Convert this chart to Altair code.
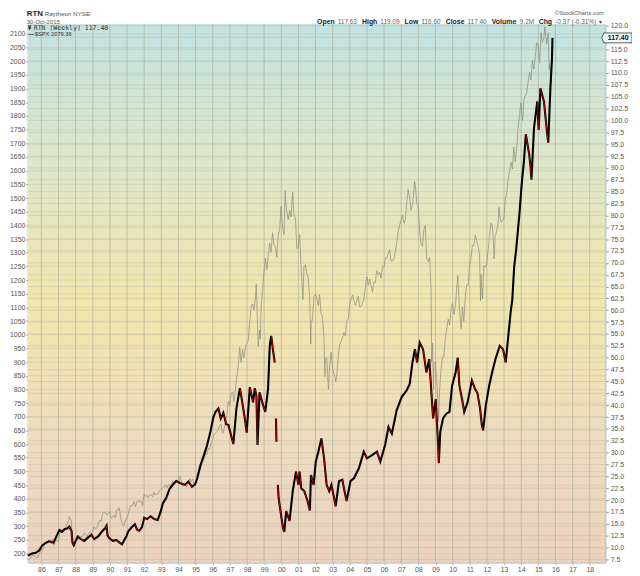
import altair as alt
import pandas as pd

W, H = 583, 543

# ---------------- data ----------------
# S&P 500 monthly closes (Mar 1985 .. Dec 1994)
spx_1985_1994 = [181, 180, 190, 192, 191, 189, 182, 190, 202, 211,
                 212, 227, 238, 235, 247, 251, 236, 253, 231, 244, 249, 242,
                 274, 284, 291, 288, 290, 304, 318, 330, 322, 252, 230, 247,
                 257, 268, 259, 261, 262, 274, 272, 262, 272, 278, 274, 278,
                 297, 289, 295, 310, 321, 318, 346, 351, 349, 340, 346, 353,
                 329, 332, 340, 331, 361, 358, 356, 322, 306, 304, 322, 330,
                 344, 367, 375, 375, 390, 371, 388, 395, 388, 392, 375, 417,
                 409, 413, 404, 415, 415, 408, 424, 414, 418, 419, 431, 436,
                 439, 443, 452, 440, 450, 451, 448, 464, 459, 468, 462, 466,
                 482, 467, 446, 451, 457, 444, 458, 475, 463, 472, 454, 459]
# Jan 1995 .. Dec 2004
spx_1995_2004 = [470, 487, 501, 515, 533, 545, 562, 562, 584, 582, 605, 616,
                 636, 640, 646, 654, 669, 671, 640, 652, 687, 705, 757, 741,
                 786, 791, 757, 801, 848, 885, 954, 899, 947, 915, 955, 970,
                 980, 1049, 1102, 1112, 1091, 1134, 1121, 957, 1017, 1099, 1164, 1229,
                 1280, 1238, 1286, 1335, 1302, 1373, 1329, 1320, 1283, 1363, 1389, 1469,
                 1394, 1366, 1499, 1452, 1421, 1455, 1431, 1518, 1437, 1429, 1315, 1320,
                 1366, 1240, 1160, 1249, 1256, 1224, 1211, 1134, 1041, 1060, 1139, 1148,
                 1130, 1107, 1147, 1077, 1067, 990, 912, 916, 815, 886, 936, 880,
                 856, 841, 848, 917, 964, 975, 990, 1008, 996, 1051, 1058, 1112,
                 1131, 1145, 1126, 1107, 1121, 1141, 1102, 1104, 1115, 1130, 1174, 1212]
# Jan 2005 .. Oct 2015
spx_2005_2015 = [1181, 1204, 1181, 1157, 1192, 1191, 1234, 1220, 1229, 1207, 1249, 1248,
                 1280, 1281, 1295, 1311, 1270, 1270, 1277, 1304, 1336, 1378, 1401, 1418,
                 1438, 1407, 1421, 1482, 1531, 1503, 1455, 1474, 1527, 1549, 1481, 1468,
                 1379, 1331, 1323, 1386, 1400, 1280, 1267, 1283, 1165, 969, 896, 903,
                 826, 735, 798, 873, 919, 919, 987, 1021, 1057, 1036, 1096, 1115,
                 1074, 1104, 1169, 1187, 1089, 1031, 1102, 1049, 1141, 1183, 1181, 1258,
                 1286, 1327, 1326, 1364, 1345, 1321, 1292, 1219, 1131, 1253, 1247, 1258,
                 1312, 1366, 1408, 1398, 1310, 1362, 1379, 1407, 1441, 1412, 1416, 1426,
                 1498, 1515, 1569, 1598, 1631, 1606, 1686, 1633, 1682, 1757, 1806, 1848,
                 1783, 1859, 1872, 1884, 1924, 1960, 1931, 2003, 1972, 2018, 2068, 2059,
                 1995, 2105, 2068, 2086, 2107, 2063, 2104, 1972, 1920, 2079]
# extra weekly closes at turning points
spx_week_dates = ["1987-08-21", "1987-10-23", "1987-12-04", "1990-07-13", "1990-10-12",
                  "1998-07-17", "1998-09-04", "1998-10-09", "2000-03-24", "2000-09-01",
                  "2001-04-06", "2001-09-21", "2002-07-19", "2002-10-04", "2002-10-11",
                  "2003-03-07", "2007-10-12", "2008-10-10", "2008-11-21", "2009-03-06",
                  "2010-04-23", "2010-07-02", "2011-04-29", "2011-08-19", "2011-09-30",
                  "2012-06-01", "2012-09-14", "2015-05-22", "2015-08-21", "2015-08-28",
                  "2015-09-25", "2015-10-30"]
spx_week_vals = [335, 248, 224, 367, 300,
                 1186, 973, 984, 1527, 1521,
                 1128, 966, 847, 800, 835,
                 829, 1561, 899, 800, 683,
                 1217, 1022, 1364, 1124, 1131,
                 1278, 1466, 2126, 1971, 1989,
                 1931, 2079]

# RTN weekly price (three pieces: share-class switch in 1999)
rtn_a_dates = ["1985-03-18", "1985-06-01", "1985-09-01", "1985-11-15", "1986-01-15",
               "1986-04-01", "1986-06-15", "1986-09-15", "1986-11-20", "1987-01-20",
               "1987-03-15", "1987-05-15", "1987-07-01", "1987-08-20", "1987-10-05",
               "1987-10-25", "1987-11-20", "1988-02-15", "1988-05-01", "1988-07-01",
               "1988-10-01", "1988-12-01", "1989-02-01", "1989-05-01", "1989-07-15",
               "1989-09-15", "1989-10-20", "1989-11-10", "1989-12-15", "1990-03-01",
               "1990-05-15", "1990-08-01", "1990-09-15", "1990-11-15", "1990-12-20",
               "1991-01-25", "1991-04-01", "1991-06-15", "1991-08-01", "1991-09-15",
               "1991-11-15", "1992-01-01", "1992-03-01", "1992-05-15", "1992-08-01",
               "1992-10-15", "1992-12-15", "1993-02-01", "1993-04-15", "1993-07-01",
               "1993-09-15", "1993-11-15", "1994-02-01", "1994-05-15", "1994-08-01",
               "1994-10-15", "1994-12-20", "1995-02-01", "1995-04-15", "1995-07-01",
               "1995-09-01", "1995-11-15", "1996-01-15", "1996-03-01", "1996-05-01",
               "1996-06-20", "1996-08-15", "1996-10-15", "1996-12-01", "1997-03-15",
               "1997-05-20", "1997-08-01", "1997-09-15", "1997-11-15", "1997-12-25",
               "1998-03-01", "1998-05-10", "1998-06-15", "1998-07-20", "1998-08-12",
               "1998-09-25", "1998-12-10", "1999-01-25", "1999-03-25", "1999-04-30",
               "1999-06-01", "1999-07-05", "1999-08-15"]
rtn_a_vals = [8.3, 8.7, 8.9, 9.4, 10.4,
              11.0, 11.3, 11.0, 12.4, 13.7,
              13.3, 13.9, 14.0, 14.4, 13.5,
              11.0, 10.5, 12.3, 11.7, 11.4,
              12.2, 12.7, 11.8, 12.4, 13.4,
              14.0, 14.6, 12.6, 12.0, 11.4,
              11.6, 11.0, 10.7, 11.8, 12.4,
              13.4, 14.2, 14.9, 13.8, 13.5,
              14.3, 16.3, 16.0, 16.6, 16.0,
              15.8, 17.5, 19.3, 20.5, 22.5,
              23.4, 24.0, 23.6, 23.2, 23.9,
              22.8, 23.3, 24.5, 27.4, 29.6,
              31.5, 34.5, 37.5, 38.6, 39.3,
              37.2, 38.4, 36.0, 35.8, 31.8,
              39.3, 43.6, 41.0, 37.2, 34.2,
              43.8, 40.6, 43.6, 42.0, 31.6,
              42.7, 40.0, 38.6, 43.4, 52.5,
              54.6, 51.8, 49.0]
rtn_b_dates = ["1999-09-10", "1999-09-20"]
rtn_b_vals = [37.2, 32.3]
rtn_c_dates = ["1999-10-20", "1999-11-05", "1999-12-15", "2000-02-05", "2000-03-05",
               "2000-04-15", "2000-06-25", "2000-09-01", "2000-11-10", "2001-01-01",
               "2001-01-25", "2001-03-01", "2001-05-05", "2001-07-15", "2001-09-01",
               "2001-09-25", "2001-11-20", "2002-01-05", "2002-03-01", "2002-05-05",
               "2002-07-01", "2002-08-25", "2002-10-20", "2002-12-05", "2003-01-30",
               "2003-03-05", "2003-05-15", "2003-07-25", "2003-09-10", "2003-10-25",
               "2004-01-15", "2004-03-28", "2004-07-12", "2004-10-25", "2005-01-01",
               "2005-04-20", "2005-07-31", "2005-10-12", "2006-01-22", "2006-04-05",
               "2006-06-15", "2006-09-25", "2007-01-10", "2007-04-25", "2007-07-01",
               "2007-08-28", "2007-10-20", "2007-12-05", "2008-01-30", "2008-04-10",
               "2008-06-20", "2008-08-20", "2008-10-05", "2008-11-10", "2009-01-05",
               "2009-02-25", "2009-03-12", "2009-04-12", "2009-06-10", "2009-08-18",
               "2009-10-25", "2009-12-20", "2010-03-05", "2010-04-20", "2010-05-25",
               "2010-07-20", "2010-09-05", "2010-11-15", "2011-02-15", "2011-04-25",
               "2011-06-15", "2011-08-08", "2011-09-15", "2011-10-12", "2011-12-10",
               "2012-02-18", "2012-05-01", "2012-07-10", "2012-10-01", "2012-12-10",
               "2013-02-05", "2013-04-01", "2013-05-20", "2013-06-25", "2013-08-05",
               "2013-09-15", "2013-11-25", "2014-01-01", "2014-01-25", "2014-03-01",
               "2014-04-10", "2014-06-20", "2014-07-20", "2014-08-08", "2014-10-01",
               "2014-12-10", "2015-01-08", "2015-02-15", "2015-05-01", "2015-07-10",
               "2015-08-01", "2015-09-15", "2015-10-20", "2015-10-30"]
rtn_c_vals = [23.2, 20.5, 17.7, 14.2, 13.3,
              17.7, 15.6, 21.9, 26.0, 23.2,
              26.0, 22.5, 21.9, 19.8, 17.8,
              25.3, 23.2, 28.1, 30.2, 33.0,
              28.8, 23.2, 21.9, 23.2, 20.5,
              18.7, 24.0, 24.3, 21.9, 19.8,
              24.0, 24.6, 26.7, 30.2, 28.8,
              29.5, 30.2, 28.1, 31.6, 35.4,
              34.0, 38.9, 41.7, 43.1, 44.5,
              49.0, 51.8, 49.0, 53.2, 51.8,
              46.9, 49.7, 42.7, 37.2, 41.3,
              31.6, 27.8, 34.4, 37.2, 38.2,
              38.6, 44.1, 46.9, 50.0, 44.1,
              41.3, 38.6, 40.6, 45.2, 43.4,
              42.5, 39.3, 35.8, 34.7, 40.0,
              44.1, 47.3, 50.0, 52.5, 51.8,
              49.0, 54.6, 59.5, 62.2, 69.2,
              72.7, 80.4, 85.2, 88.0, 91.5,
              97.1, 92.9, 90.1, 87.5, 98.4,
              104.0, 98.0, 106.8, 104.0, 97.1,
              95.3, 106.8, 113.1, 117.4]

year_ticks = list(range(1986, 2019))
rtn_ticks = [7.5 + 2.5 * i for i in range(46)]
spx_ticks = list(range(200, 2101, 50))

last_close = 117.40

# ---------------- tables ----------------
spx_monthly = spx_1985_1994 + spx_1995_2004 + spx_2005_2015
mdates = []
yy, mm = 1985, 3
for _ in spx_monthly:
    mdates.append(f"{yy}-{mm:02d}-28")
    mm += 1
    if mm > 12:
        mm = 1
        yy += 1
spx = pd.DataFrame({"date": mdates + spx_week_dates, "spx": spx_monthly + spx_week_vals})
spx = spx.sort_values("date").reset_index(drop=True)

pieces = [(rtn_a_dates, rtn_a_vals, "a"), (rtn_b_dates, rtn_b_vals, "b"), (rtn_c_dates, rtn_c_vals, "c")]
rows, downs = [], []
for ds, vs, s in pieces:
    for i, (d, v) in enumerate(zip(ds, vs)):
        rows.append({"date": d, "rtn": v, "seg": s})
        if i > 0 and v < vs[i - 1]:
            downs.append({"d0": ds[i - 1], "v0": vs[i - 1], "d1": d, "v1": v})
rtn = pd.DataFrame(rows)
rtn_down = pd.DataFrame(downs)

years = pd.DataFrame({"d": [f"{y}-01-01" for y in year_ticks]})
rticks = pd.DataFrame({"v": rtn_ticks})
lticks = pd.DataFrame({"v": spx_ticks})
one = pd.DataFrame({"k": [0]})
lastdf = pd.DataFrame({"v": [last_close], "t": [f"{last_close:.2f}"]})

# ---------------- scales / axes ----------------
XS = alt.Scale(type="utc", domain=[alt.DateTime(year=1985, month=3, date=17, utc=True),
                                   alt.DateTime(year=2018, month=11, date=28, utc=True)])
RS = alt.Scale(domain=[6.87, 120.21], nice=False, zero=False)
LS = alt.Scale(domain=[167.4, 2134.4], nice=False, zero=False)
FONT = "Liberation Sans"
LBL = "#555555"

XAX = alt.Axis(values=[alt.DateTime(year=y, month=1, date=1, utc=True) for y in year_ticks],
               labelExpr="utcFormat(datum.value, '%y')", grid=False, title=None,
               labelFont=FONT, labelFontSize=7, labelColor=LBL, tickSize=2,
               tickColor="#9aa", labelPadding=1, domainColor="#a9bcc4",
               labelFlush=False, labelOverlap=False)

bg = alt.Chart(one).mark_rect(
    color=alt.Gradient(gradient="linear", x1=0, y1=0, x2=0, y2=1, stops=[
        alt.GradientStop(offset=0.0, color="#c3e2e1"),
        alt.GradientStop(offset=0.25, color="#dde6ca"),
        alt.GradientStop(offset=0.5, color="#f0e6ae"),
        alt.GradientStop(offset=0.6, color="#f0e3b1"),
        alt.GradientStop(offset=0.78, color="#eddbbf"),
        alt.GradientStop(offset=1.0, color="#ebd2bd"),
    ])
).encode(x=alt.value(0), x2=alt.value(W), y=alt.value(0), y2=alt.value(H))

vgrid = alt.Chart(years).mark_rule(color="#a3a892", strokeWidth=1, opacity=0.6).encode(
    x=alt.X("d:T", scale=XS, axis=XAX))
hgrid_r = alt.Chart(rticks).mark_rule(color="#b4b6a4", strokeWidth=1, opacity=0.4).encode(
    y=alt.Y("v:Q", scale=RS, axis=None))
hgrid_l = alt.Chart(lticks).mark_rule(color="#b4b6a4", strokeWidth=1, opacity=0.3).encode(
    y=alt.Y("v:Q", scale=LS, axis=None))

spx_line = alt.Chart(spx).mark_line(color="#8c8c7c", strokeWidth=0.9, opacity=0.8).encode(
    x=alt.X("date:T", scale=XS, axis=XAX),
    y=alt.Y("spx:Q", scale=LS, title=None,
            axis=alt.Axis(orient="left", values=spx_ticks, format="d", grid=False, labelFont=FONT,
                          labelFontSize=7, labelColor=LBL, tickSize=2, tickColor="#999",
                          labelPadding=1, domainColor="#a9bcc4", labelOverlap=False,
                          labelFlush=False)),
)

rtn_line = alt.Chart(rtn).mark_line(color="#000000", strokeWidth=2.1).encode(
    x=alt.X("date:T", scale=XS, axis=XAX),
    y=alt.Y("rtn:Q", scale=RS, title=None,
            axis=alt.Axis(orient="right", values=[t for t in rtn_ticks if abs(t - 117.5) > 0.1],
                          format=".1f", grid=False, labelFont=FONT, labelFontSize=7,
                          labelColor=LBL, tickSize=3, tickColor="#999", labelPadding=2,
                          domainColor="#9fbfcc", labelOverlap=False, labelFlush=False)),
    detail="seg:N",
)

rtn_red = alt.Chart(rtn_down).mark_rule(color="#e00000", strokeWidth=0.9, opacity=0.9).encode(
    x=alt.X("d0:T", scale=XS, axis=XAX), x2="d1:T",
    y=alt.Y("v0:Q", scale=RS, axis=None), y2="v1:Q",
)

marker = alt.Chart(lastdf).mark_point(
    shape="M-1.6,0L-1.4,-0.5H1.45V0.5H-1.4Z", size=400, filled=True,
    fill="#eef5f2", stroke="#333333", strokeWidth=0.8, opacity=1
).encode(x=alt.value(W + 12.5), y=alt.Y("v:Q", scale=RS, axis=None))
marker_t = alt.Chart(lastdf).mark_text(font=FONT, fontSize=7, fontWeight="bold", color="#111").encode(
    x=alt.value(W + 13), y=alt.Y("v:Q", scale=RS, axis=None), text="t:N")

# --------- header / legend texts (page coords -> plot coords) ---------
OX, OY = 28, 22


def txt(s, px, py, size=7, bold=False, color="#333", align="left", font=FONT, baseline="alphabetic"):
    return alt.Chart(one).mark_text(
        text=s, font=font, fontSize=size, fontWeight="bold" if bold else "normal",
        color=color, align=align, baseline=baseline
    ).encode(x=alt.value(px - OX), y=alt.value(py - OY))


AR = {"0": .556, "1": .556, "2": .556, "3": .556, "4": .556, "5": .556, "6": .556, "7": .556,
      "8": .556, "9": .556, ".": .278, "-": .333, " ": .278, "(": .333, ")": .333, "%": .889, "M": .833}
AB = {"O": .778, "p": .611, "e": .556, "n": .611, "H": .722, "i": .278, "g": .611, "h": .611,
      "L": .611, "o": .611, "w": .778, "C": .722, "l": .278, "s": .556, "V": .667, "u": .611, "m": .889}


def width(s, size, table):
    return sum(table.get(c, .556) for c in s) * size


texts = [
    txt("RTN", 27, 13.5, size=8, bold=True, color="#222"),
    txt("Raytheon NYSE", 45, 13.5, size=6.3, color="#555"),
    txt("30-Oct-2015", 27, 21, size=6, color="#555"),
    txt("\u00a9StockCharts.com", 610, 12.8, size=6, color="#555", align="right"),
    txt("RTN (Weekly) 117.40", 34, 27, size=6.6, color="#333", font="DejaVu Sans Mono"),
    txt("\u00a5", 28, 27, size=6.5, bold=True, color="#111"),
    txt("\u2014", 28.5, 33.5, size=6, bold=True, color="#111"),
    txt("$SPX 2079.36", 35, 33.5, size=5.8, color="#333"),
]

hdr = [("Open", True), ("117.63", False), ("High", True), ("119.09", False), ("Low", True),
       ("116.60", False), ("Close", True), ("117.40", False), ("Volume", True), ("9.2M", False),
       ("Chg", True), ("-0.37 (-0.31%)", False)]
xcur = 320.0
for s, b in hdr:
    if b:
        texts.append(txt(s, xcur, 21, size=7, bold=True, color="#222"))
        xcur += width(s, 7, AB) + 3.0
    else:
        texts.append(txt(s, xcur, 21, size=6.5, color="#666"))
        xcur += width(s, 6.5, AR) + 4.6
texts.append(txt("\u25be", xcur - 1.5, 21, size=6.5, color="#cc0000"))

chart = alt.layer(bg, vgrid, hgrid_r, hgrid_l, spx_line, rtn_line, rtn_red, marker, marker_t, *texts).resolve_scale(
    y="independent"
).properties(
    width=W, height=H,
    autosize=alt.AutoSizeParams(type="none"),
    padding={"left": 20, "top": 14, "right": 27, "bottom": 11},
    background="#ffffff",
).configure_view(stroke="#b8c6ca", strokeWidth=1)

chart.save("out.html", embed_options={"renderer": "svg", "actions": False})
